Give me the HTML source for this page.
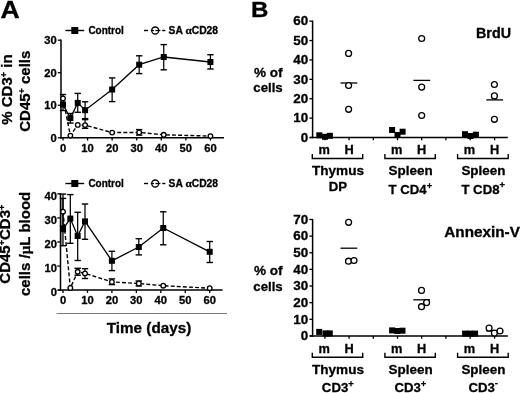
<!DOCTYPE html>
<html><head><meta charset="utf-8"><style>
html,body{margin:0;padding:0;background:#fff;width:520px;height:393px;overflow:hidden;}
svg{display:block;will-change:transform;}
text{font-family:"Liberation Sans",sans-serif;font-weight:bold;fill:#000;stroke:#000;stroke-width:0.3px;}
</style></head><body>
<svg width="520" height="393" viewBox="0 0 520 393">
<rect width="520" height="393" fill="#fff"/>
<rect x="61.2" y="199" width="1.3" height="46" fill="#a0a0a0"/>
<text x="0.50" y="18.30" font-size="23.5" textLength="19.2" lengthAdjust="spacingAndGlyphs">A</text>
<text x="250.90" y="17.20" font-size="22.5" textLength="17.4" lengthAdjust="spacingAndGlyphs">B</text>
<line x1="61.00" y1="39.60" x2="61.00" y2="138.50" stroke="#000" stroke-width="1.5"/>
<line x1="60.30" y1="137.80" x2="224.00" y2="137.80" stroke="#000" stroke-width="1.5"/>
<line x1="57.80" y1="137.80" x2="61.00" y2="137.80" stroke="#000" stroke-width="1.3"/>
<text x="56.70" y="141.70" font-size="11.2" text-anchor="end">0</text>
<line x1="57.80" y1="105.27" x2="61.00" y2="105.27" stroke="#000" stroke-width="1.3"/>
<text x="56.70" y="109.17" font-size="11.2" text-anchor="end">10</text>
<line x1="57.80" y1="72.73" x2="61.00" y2="72.73" stroke="#000" stroke-width="1.3"/>
<text x="56.70" y="76.63" font-size="11.2" text-anchor="end">20</text>
<line x1="57.80" y1="40.20" x2="61.00" y2="40.20" stroke="#000" stroke-width="1.3"/>
<text x="56.70" y="44.10" font-size="11.2" text-anchor="end">30</text>
<line x1="63.00" y1="137.80" x2="63.00" y2="140.60" stroke="#000" stroke-width="1.3"/>
<text x="63.00" y="151.60" font-size="11.2" text-anchor="middle">0</text>
<line x1="87.57" y1="137.80" x2="87.57" y2="140.60" stroke="#000" stroke-width="1.3"/>
<text x="87.57" y="151.60" font-size="11.2" text-anchor="middle">10</text>
<line x1="112.14" y1="137.80" x2="112.14" y2="140.60" stroke="#000" stroke-width="1.3"/>
<text x="112.14" y="151.60" font-size="11.2" text-anchor="middle">20</text>
<line x1="136.71" y1="137.80" x2="136.71" y2="140.60" stroke="#000" stroke-width="1.3"/>
<text x="136.71" y="151.60" font-size="11.2" text-anchor="middle">30</text>
<line x1="161.28" y1="137.80" x2="161.28" y2="140.60" stroke="#000" stroke-width="1.3"/>
<text x="161.28" y="151.60" font-size="11.2" text-anchor="middle">40</text>
<line x1="185.85" y1="137.80" x2="185.85" y2="140.60" stroke="#000" stroke-width="1.3"/>
<text x="185.85" y="151.60" font-size="11.2" text-anchor="middle">50</text>
<line x1="210.42" y1="137.80" x2="210.42" y2="140.60" stroke="#000" stroke-width="1.3"/>
<text x="210.42" y="151.60" font-size="11.2" text-anchor="middle">60</text>
<polyline points="63.00,98.40 70.37,135.60 77.74,124.90 85.11,125.10 112.14,132.60 139.17,132.40 163.74,134.80 210.42,136.10" fill="none" stroke="#000" stroke-width="1.4" stroke-dasharray="3.9,2.2"/>
<polyline points="63.00,104.50 70.37,118.10 77.74,102.90 85.11,110.20 112.14,89.50 139.17,64.70 163.74,57.00 210.42,62.00" fill="none" stroke="#000" stroke-width="1.3"/>
<line x1="85.11" y1="119.60" x2="85.11" y2="128.30" stroke="#000" stroke-width="1.25"/>
<line x1="81.91" y1="119.60" x2="88.31" y2="119.60" stroke="#000" stroke-width="1.4"/>
<line x1="81.91" y1="128.30" x2="88.31" y2="128.30" stroke="#000" stroke-width="1.4"/>
<line x1="139.17" y1="129.60" x2="139.17" y2="135.10" stroke="#000" stroke-width="1.25"/>
<line x1="135.97" y1="129.60" x2="142.37" y2="129.60" stroke="#000" stroke-width="1.4"/>
<line x1="135.97" y1="135.10" x2="142.37" y2="135.10" stroke="#000" stroke-width="1.4"/>
<line x1="63.00" y1="94.50" x2="63.00" y2="110.50" stroke="#000" stroke-width="1.25"/>
<line x1="59.80" y1="94.50" x2="66.20" y2="94.50" stroke="#000" stroke-width="1.4"/>
<line x1="59.80" y1="110.50" x2="66.20" y2="110.50" stroke="#000" stroke-width="1.4"/>
<line x1="70.37" y1="113.50" x2="70.37" y2="123.10" stroke="#000" stroke-width="1.25"/>
<line x1="67.17" y1="113.50" x2="73.57" y2="113.50" stroke="#000" stroke-width="1.4"/>
<line x1="67.17" y1="123.10" x2="73.57" y2="123.10" stroke="#000" stroke-width="1.4"/>
<line x1="77.74" y1="93.40" x2="77.74" y2="112.30" stroke="#000" stroke-width="1.25"/>
<line x1="74.54" y1="93.40" x2="80.94" y2="93.40" stroke="#000" stroke-width="1.4"/>
<line x1="74.54" y1="112.30" x2="80.94" y2="112.30" stroke="#000" stroke-width="1.4"/>
<line x1="85.11" y1="101.80" x2="85.11" y2="118.60" stroke="#000" stroke-width="1.25"/>
<line x1="81.91" y1="101.80" x2="88.31" y2="101.80" stroke="#000" stroke-width="1.4"/>
<line x1="81.91" y1="118.60" x2="88.31" y2="118.60" stroke="#000" stroke-width="1.4"/>
<line x1="112.14" y1="77.90" x2="112.14" y2="101.60" stroke="#000" stroke-width="1.25"/>
<line x1="108.94" y1="77.90" x2="115.34" y2="77.90" stroke="#000" stroke-width="1.4"/>
<line x1="108.94" y1="101.60" x2="115.34" y2="101.60" stroke="#000" stroke-width="1.4"/>
<line x1="139.17" y1="55.80" x2="139.17" y2="73.60" stroke="#000" stroke-width="1.25"/>
<line x1="135.97" y1="55.80" x2="142.37" y2="55.80" stroke="#000" stroke-width="1.4"/>
<line x1="135.97" y1="73.60" x2="142.37" y2="73.60" stroke="#000" stroke-width="1.4"/>
<line x1="163.74" y1="44.60" x2="163.74" y2="69.80" stroke="#000" stroke-width="1.25"/>
<line x1="160.54" y1="44.60" x2="166.94" y2="44.60" stroke="#000" stroke-width="1.4"/>
<line x1="160.54" y1="69.80" x2="166.94" y2="69.80" stroke="#000" stroke-width="1.4"/>
<line x1="210.42" y1="54.70" x2="210.42" y2="69.00" stroke="#000" stroke-width="1.25"/>
<line x1="207.22" y1="54.70" x2="213.62" y2="54.70" stroke="#000" stroke-width="1.4"/>
<line x1="207.22" y1="69.00" x2="213.62" y2="69.00" stroke="#000" stroke-width="1.4"/>
<circle cx="63.00" cy="98.40" r="2.3" fill="#fff" stroke="#000" stroke-width="1.3"/>
<circle cx="70.37" cy="135.60" r="2.3" fill="#fff" stroke="#000" stroke-width="1.3"/>
<circle cx="77.74" cy="124.90" r="2.3" fill="#fff" stroke="#000" stroke-width="1.3"/>
<circle cx="85.11" cy="125.10" r="2.3" fill="#fff" stroke="#000" stroke-width="1.3"/>
<circle cx="112.14" cy="132.60" r="2.3" fill="#fff" stroke="#000" stroke-width="1.3"/>
<circle cx="139.17" cy="132.40" r="2.3" fill="#fff" stroke="#000" stroke-width="1.3"/>
<circle cx="163.74" cy="134.80" r="2.3" fill="#fff" stroke="#000" stroke-width="1.3"/>
<circle cx="210.42" cy="136.10" r="2.3" fill="#fff" stroke="#000" stroke-width="1.3"/>
<rect x="60.00" y="101.50" width="6" height="6" fill="#000"/>
<rect x="67.37" y="115.10" width="6" height="6" fill="#000"/>
<rect x="74.74" y="99.90" width="6" height="6" fill="#000"/>
<rect x="82.11" y="107.20" width="6" height="6" fill="#000"/>
<rect x="109.14" y="86.50" width="6" height="6" fill="#000"/>
<rect x="136.17" y="61.70" width="6" height="6" fill="#000"/>
<rect x="160.74" y="54.00" width="6" height="6" fill="#000"/>
<rect x="207.42" y="59.00" width="6" height="6" fill="#000"/>
<line x1="65.40" y1="30.50" x2="84.20" y2="30.50" stroke="#000" stroke-width="1.4"/>
<rect x="71.3" y="27.0" width="7" height="7" fill="#000"/>
<text x="88.40" y="34.20" font-size="10.0" textLength="35.4" lengthAdjust="spacingAndGlyphs">Control</text>
<line x1="144.00" y1="30.50" x2="148.10" y2="30.50" stroke="#000" stroke-width="1.4"/>
<line x1="150.80" y1="30.50" x2="154.00" y2="30.50" stroke="#000" stroke-width="1.3"/>
<line x1="155.40" y1="30.50" x2="160.40" y2="30.50" stroke="#000" stroke-width="1.3"/>
<circle cx="155.2" cy="30.5" r="3.5" fill="none" stroke="#000" stroke-width="1.3"/>
<line x1="162.20" y1="30.50" x2="165.40" y2="30.50" stroke="#000" stroke-width="1.4"/>
<text x="168.60" y="34.20" font-size="10.0" textLength="49.5" lengthAdjust="spacingAndGlyphs">SA <tspan font-family="Liberation Serif, serif" font-size="11">α</tspan>CD28</text>
<line x1="60.50" y1="193.30" x2="60.50" y2="290.80" stroke="#000" stroke-width="1.5"/>
<line x1="58.20" y1="290.10" x2="222.60" y2="290.10" stroke="#000" stroke-width="1.5"/>
<line x1="57.30" y1="290.10" x2="60.50" y2="290.10" stroke="#000" stroke-width="1.3"/>
<text x="57.00" y="296.40" font-size="11.2" text-anchor="end">0</text>
<line x1="57.30" y1="266.05" x2="60.50" y2="266.05" stroke="#000" stroke-width="1.3"/>
<text x="57.00" y="272.35" font-size="11.2" text-anchor="end">10</text>
<line x1="57.30" y1="242.00" x2="60.50" y2="242.00" stroke="#000" stroke-width="1.3"/>
<text x="57.00" y="248.30" font-size="11.2" text-anchor="end">20</text>
<line x1="57.30" y1="217.95" x2="60.50" y2="217.95" stroke="#000" stroke-width="1.3"/>
<text x="57.00" y="224.25" font-size="11.2" text-anchor="end">30</text>
<line x1="57.30" y1="193.90" x2="60.50" y2="193.90" stroke="#000" stroke-width="1.3"/>
<text x="57.00" y="200.20" font-size="11.2" text-anchor="end">40</text>
<line x1="63.00" y1="290.10" x2="63.00" y2="292.90" stroke="#000" stroke-width="1.3"/>
<text x="63.00" y="303.60" font-size="11.2" text-anchor="middle">0</text>
<line x1="87.45" y1="290.10" x2="87.45" y2="292.90" stroke="#000" stroke-width="1.3"/>
<text x="87.45" y="303.60" font-size="11.2" text-anchor="middle">10</text>
<line x1="111.90" y1="290.10" x2="111.90" y2="292.90" stroke="#000" stroke-width="1.3"/>
<text x="111.90" y="303.60" font-size="11.2" text-anchor="middle">20</text>
<line x1="136.35" y1="290.10" x2="136.35" y2="292.90" stroke="#000" stroke-width="1.3"/>
<text x="136.35" y="303.60" font-size="11.2" text-anchor="middle">30</text>
<line x1="160.80" y1="290.10" x2="160.80" y2="292.90" stroke="#000" stroke-width="1.3"/>
<text x="160.80" y="303.60" font-size="11.2" text-anchor="middle">40</text>
<line x1="185.25" y1="290.10" x2="185.25" y2="292.90" stroke="#000" stroke-width="1.3"/>
<text x="185.25" y="303.60" font-size="11.2" text-anchor="middle">50</text>
<line x1="209.70" y1="290.10" x2="209.70" y2="292.90" stroke="#000" stroke-width="1.3"/>
<text x="209.70" y="303.60" font-size="11.2" text-anchor="middle">60</text>
<polyline points="63.00,211.70 70.33,288.00 77.67,271.80 85.00,273.40 111.90,281.90 138.80,283.50 163.25,285.70 209.70,288.20" fill="none" stroke="#000" stroke-width="1.4" stroke-dasharray="3.9,2.2"/>
<polyline points="63.00,229.20 70.33,218.60 77.67,236.00 85.00,221.40 111.90,260.80 138.80,247.00 163.25,228.00 209.70,251.80" fill="none" stroke="#000" stroke-width="1.3"/>
<line x1="63.00" y1="198.40" x2="63.00" y2="226.00" stroke="#000" stroke-width="1.25"/>
<line x1="59.80" y1="198.40" x2="66.20" y2="198.40" stroke="#000" stroke-width="1.4"/>
<line x1="59.80" y1="226.00" x2="66.20" y2="226.00" stroke="#000" stroke-width="1.4"/>
<line x1="77.67" y1="268.30" x2="77.67" y2="275.20" stroke="#000" stroke-width="1.25"/>
<line x1="74.47" y1="268.30" x2="80.87" y2="268.30" stroke="#000" stroke-width="1.4"/>
<line x1="74.47" y1="275.20" x2="80.87" y2="275.20" stroke="#000" stroke-width="1.4"/>
<line x1="85.00" y1="268.70" x2="85.00" y2="278.50" stroke="#000" stroke-width="1.25"/>
<line x1="81.80" y1="268.70" x2="88.20" y2="268.70" stroke="#000" stroke-width="1.4"/>
<line x1="81.80" y1="278.50" x2="88.20" y2="278.50" stroke="#000" stroke-width="1.4"/>
<line x1="111.90" y1="278.90" x2="111.90" y2="284.60" stroke="#000" stroke-width="1.25"/>
<line x1="108.70" y1="278.90" x2="115.10" y2="278.90" stroke="#000" stroke-width="1.4"/>
<line x1="108.70" y1="284.60" x2="115.10" y2="284.60" stroke="#000" stroke-width="1.4"/>
<line x1="138.80" y1="281.00" x2="138.80" y2="286.00" stroke="#000" stroke-width="1.25"/>
<line x1="135.60" y1="281.00" x2="142.00" y2="281.00" stroke="#000" stroke-width="1.4"/>
<line x1="135.60" y1="286.00" x2="142.00" y2="286.00" stroke="#000" stroke-width="1.4"/>
<line x1="63.00" y1="194.10" x2="63.00" y2="245.70" stroke="#000" stroke-width="1.25"/>
<line x1="59.80" y1="194.10" x2="66.20" y2="194.10" stroke="#000" stroke-width="1.4"/>
<line x1="59.80" y1="245.70" x2="66.20" y2="245.70" stroke="#000" stroke-width="1.4"/>
<line x1="70.33" y1="194.60" x2="70.33" y2="243.30" stroke="#000" stroke-width="1.25"/>
<line x1="67.13" y1="194.60" x2="73.53" y2="194.60" stroke="#000" stroke-width="1.4"/>
<line x1="67.13" y1="243.30" x2="73.53" y2="243.30" stroke="#000" stroke-width="1.4"/>
<line x1="77.67" y1="212.30" x2="77.67" y2="260.50" stroke="#000" stroke-width="1.25"/>
<line x1="74.47" y1="212.30" x2="80.87" y2="212.30" stroke="#000" stroke-width="1.4"/>
<line x1="74.47" y1="260.50" x2="80.87" y2="260.50" stroke="#000" stroke-width="1.4"/>
<line x1="85.00" y1="204.00" x2="85.00" y2="239.30" stroke="#000" stroke-width="1.25"/>
<line x1="81.80" y1="204.00" x2="88.20" y2="204.00" stroke="#000" stroke-width="1.4"/>
<line x1="81.80" y1="239.30" x2="88.20" y2="239.30" stroke="#000" stroke-width="1.4"/>
<line x1="111.90" y1="251.30" x2="111.90" y2="270.60" stroke="#000" stroke-width="1.25"/>
<line x1="108.70" y1="251.30" x2="115.10" y2="251.30" stroke="#000" stroke-width="1.4"/>
<line x1="108.70" y1="270.60" x2="115.10" y2="270.60" stroke="#000" stroke-width="1.4"/>
<line x1="138.80" y1="238.70" x2="138.80" y2="254.90" stroke="#000" stroke-width="1.25"/>
<line x1="135.60" y1="238.70" x2="142.00" y2="238.70" stroke="#000" stroke-width="1.4"/>
<line x1="135.60" y1="254.90" x2="142.00" y2="254.90" stroke="#000" stroke-width="1.4"/>
<line x1="163.25" y1="211.80" x2="163.25" y2="244.80" stroke="#000" stroke-width="1.25"/>
<line x1="160.05" y1="211.80" x2="166.44" y2="211.80" stroke="#000" stroke-width="1.4"/>
<line x1="160.05" y1="244.80" x2="166.44" y2="244.80" stroke="#000" stroke-width="1.4"/>
<line x1="209.70" y1="241.50" x2="209.70" y2="262.50" stroke="#000" stroke-width="1.25"/>
<line x1="206.50" y1="241.50" x2="212.90" y2="241.50" stroke="#000" stroke-width="1.4"/>
<line x1="206.50" y1="262.50" x2="212.90" y2="262.50" stroke="#000" stroke-width="1.4"/>
<circle cx="63.00" cy="211.70" r="2.3" fill="#fff" stroke="#000" stroke-width="1.3"/>
<circle cx="70.33" cy="288.00" r="2.3" fill="#fff" stroke="#000" stroke-width="1.3"/>
<circle cx="77.67" cy="271.80" r="2.3" fill="#fff" stroke="#000" stroke-width="1.3"/>
<circle cx="85.00" cy="273.40" r="2.3" fill="#fff" stroke="#000" stroke-width="1.3"/>
<circle cx="111.90" cy="281.90" r="2.3" fill="#fff" stroke="#000" stroke-width="1.3"/>
<circle cx="138.80" cy="283.50" r="2.3" fill="#fff" stroke="#000" stroke-width="1.3"/>
<circle cx="163.25" cy="285.70" r="2.3" fill="#fff" stroke="#000" stroke-width="1.3"/>
<circle cx="209.70" cy="288.20" r="2.3" fill="#fff" stroke="#000" stroke-width="1.3"/>
<rect x="60.00" y="226.20" width="6" height="6" fill="#000"/>
<rect x="67.33" y="215.60" width="6" height="6" fill="#000"/>
<rect x="74.67" y="233.00" width="6" height="6" fill="#000"/>
<rect x="82.00" y="218.40" width="6" height="6" fill="#000"/>
<rect x="108.90" y="257.80" width="6" height="6" fill="#000"/>
<rect x="135.80" y="244.00" width="6" height="6" fill="#000"/>
<rect x="160.25" y="225.00" width="6" height="6" fill="#000"/>
<rect x="206.70" y="248.80" width="6" height="6" fill="#000"/>
<line x1="65.40" y1="183.50" x2="84.20" y2="183.50" stroke="#000" stroke-width="1.4"/>
<rect x="71.3" y="180.0" width="7" height="7" fill="#000"/>
<text x="88.40" y="187.20" font-size="10.0" textLength="35.4" lengthAdjust="spacingAndGlyphs">Control</text>
<line x1="144.00" y1="183.50" x2="148.10" y2="183.50" stroke="#000" stroke-width="1.4"/>
<line x1="150.80" y1="183.50" x2="154.00" y2="183.50" stroke="#000" stroke-width="1.3"/>
<line x1="155.40" y1="183.50" x2="160.40" y2="183.50" stroke="#000" stroke-width="1.3"/>
<circle cx="155.2" cy="183.5" r="3.5" fill="none" stroke="#000" stroke-width="1.3"/>
<line x1="162.20" y1="183.50" x2="165.40" y2="183.50" stroke="#000" stroke-width="1.4"/>
<text x="168.60" y="187.20" font-size="10.0" textLength="49.5" lengthAdjust="spacingAndGlyphs">SA <tspan font-family="Liberation Serif, serif" font-size="11">α</tspan>CD28</text>
<line x1="56.50" y1="313.50" x2="227.00" y2="313.50" stroke="#7a7a7a" stroke-width="1.1"/>
<text x="149.00" y="333.00" font-size="15" text-anchor="middle" textLength="84.5" lengthAdjust="spacingAndGlyphs">Time (days)</text>
<text transform="translate(12,89.6) rotate(-90)" font-size="15" text-anchor="middle">% CD3<tspan dy="-5.5" font-size="9">+</tspan><tspan dy="5.5"> in</tspan></text>
<text transform="translate(30,91.2) rotate(-90)" font-size="15" text-anchor="middle">CD45<tspan dy="-5.5" font-size="9">+</tspan><tspan dy="5.5"> cells</tspan></text>
<text transform="translate(10.4,244.2) rotate(-90)" font-size="15" text-anchor="middle">CD45<tspan dy="-5.5" font-size="9">+</tspan><tspan dy="5.5">CD3</tspan><tspan dy="-5.5" font-size="9">+</tspan></text>
<text transform="translate(30,243.9) rotate(-90)" font-size="15" text-anchor="middle">cells /<tspan font-family="Liberation Serif, serif">µ</tspan>L blood</text>
<line x1="312.60" y1="20.56" x2="312.60" y2="138.20" stroke="#000" stroke-width="1.5"/>
<line x1="309.80" y1="137.50" x2="507.80" y2="137.50" stroke="#000" stroke-width="1.5"/>
<line x1="309.40" y1="137.50" x2="312.60" y2="137.50" stroke="#000" stroke-width="1.3"/>
<text x="308.20" y="141.80" font-size="12.8" text-anchor="end" textLength="7.45" lengthAdjust="spacingAndGlyphs">0</text>
<line x1="309.40" y1="118.11" x2="312.60" y2="118.11" stroke="#000" stroke-width="1.3"/>
<text x="308.20" y="122.41" font-size="12.8" text-anchor="end" textLength="14.9" lengthAdjust="spacingAndGlyphs">10</text>
<line x1="309.40" y1="98.72" x2="312.60" y2="98.72" stroke="#000" stroke-width="1.3"/>
<text x="308.20" y="103.02" font-size="12.8" text-anchor="end" textLength="14.9" lengthAdjust="spacingAndGlyphs">20</text>
<line x1="309.40" y1="79.33" x2="312.60" y2="79.33" stroke="#000" stroke-width="1.3"/>
<text x="308.20" y="83.63" font-size="12.8" text-anchor="end" textLength="14.9" lengthAdjust="spacingAndGlyphs">30</text>
<line x1="309.40" y1="59.94" x2="312.60" y2="59.94" stroke="#000" stroke-width="1.3"/>
<text x="308.20" y="64.24" font-size="12.8" text-anchor="end" textLength="14.9" lengthAdjust="spacingAndGlyphs">40</text>
<line x1="309.40" y1="40.55" x2="312.60" y2="40.55" stroke="#000" stroke-width="1.3"/>
<text x="308.20" y="44.85" font-size="12.8" text-anchor="end" textLength="14.9" lengthAdjust="spacingAndGlyphs">50</text>
<line x1="309.40" y1="21.16" x2="312.60" y2="21.16" stroke="#000" stroke-width="1.3"/>
<text x="308.20" y="25.46" font-size="12.8" text-anchor="end" textLength="14.9" lengthAdjust="spacingAndGlyphs">60</text>
<line x1="324.90" y1="137.50" x2="324.90" y2="140.30" stroke="#000" stroke-width="1.3"/>
<line x1="349.10" y1="137.50" x2="349.10" y2="140.30" stroke="#000" stroke-width="1.3"/>
<line x1="373.30" y1="137.50" x2="373.30" y2="140.30" stroke="#000" stroke-width="1.3"/>
<line x1="397.50" y1="137.50" x2="397.50" y2="140.30" stroke="#000" stroke-width="1.3"/>
<line x1="421.70" y1="137.50" x2="421.70" y2="140.30" stroke="#000" stroke-width="1.3"/>
<line x1="445.90" y1="137.50" x2="445.90" y2="140.30" stroke="#000" stroke-width="1.3"/>
<line x1="470.20" y1="137.50" x2="470.20" y2="140.30" stroke="#000" stroke-width="1.3"/>
<line x1="494.60" y1="137.50" x2="494.60" y2="140.30" stroke="#000" stroke-width="1.3"/>
<text x="324.10" y="153.90" font-size="12.8" text-anchor="middle">m</text>
<text x="349.10" y="153.90" font-size="12.8" text-anchor="middle">H</text>
<polyline points="312.29999999999995,154 312.29999999999995,158.5 362.70000000000005,158.5 362.70000000000005,154" fill="none" stroke="#000" stroke-width="1.4"/>
<text x="338.00" y="174.90" font-size="13.2" text-anchor="middle" textLength="52.0" lengthAdjust="spacingAndGlyphs">Thymus</text>
<text x="337.80" y="191.20" font-size="13.2" text-anchor="middle">DP</text>
<text x="396.70" y="153.90" font-size="12.8" text-anchor="middle">m</text>
<text x="421.70" y="153.90" font-size="12.8" text-anchor="middle">H</text>
<polyline points="384.9,154 384.9,158.5 435.3,158.5 435.3,154" fill="none" stroke="#000" stroke-width="1.4"/>
<text x="410.60" y="174.90" font-size="13.2" text-anchor="middle" textLength="44.0" lengthAdjust="spacingAndGlyphs">Spleen</text>
<text x="410.40" y="193.70" font-size="13.2" text-anchor="middle">T CD4<tspan dy="-5.2" font-size="9.4">+</tspan></text>
<text x="469.40" y="153.90" font-size="12.8" text-anchor="middle">m</text>
<text x="494.60" y="153.90" font-size="12.8" text-anchor="middle">H</text>
<polyline points="457.59999999999997,154 457.59999999999997,158.5 508.20000000000005,158.5 508.20000000000005,154" fill="none" stroke="#000" stroke-width="1.4"/>
<text x="483.40" y="174.90" font-size="13.2" text-anchor="middle" textLength="44.0" lengthAdjust="spacingAndGlyphs">Spleen</text>
<text x="483.20" y="193.60" font-size="13.2" text-anchor="middle">T CD8<tspan dy="-5.2" font-size="9.4">+</tspan></text>
<rect x="316.30" y="132.30" width="6" height="6" fill="#000"/>
<rect x="322.00" y="133.80" width="6" height="6" fill="#000"/>
<rect x="326.90" y="132.80" width="6" height="6" fill="#000"/>
<line x1="340.50" y1="83.00" x2="357.30" y2="83.00" stroke="#000" stroke-width="1.3"/>
<circle cx="348.6" cy="53.4" r="2.95" fill="#fff" stroke="#000" stroke-width="1.3"/>
<circle cx="348.6" cy="85.5" r="2.95" fill="#fff" stroke="#000" stroke-width="1.3"/>
<circle cx="348.6" cy="109.3" r="2.95" fill="#fff" stroke="#000" stroke-width="1.3"/>
<rect x="389.10" y="127.00" width="6" height="6" fill="#000"/>
<rect x="394.50" y="132.00" width="6" height="6" fill="#000"/>
<rect x="399.60" y="128.70" width="6" height="6" fill="#000"/>
<line x1="413.40" y1="80.40" x2="430.20" y2="80.40" stroke="#000" stroke-width="1.3"/>
<circle cx="421.7" cy="38.5" r="2.95" fill="#fff" stroke="#000" stroke-width="1.3"/>
<circle cx="421.7" cy="87.1" r="2.95" fill="#fff" stroke="#000" stroke-width="1.3"/>
<circle cx="421.7" cy="115.5" r="2.95" fill="#fff" stroke="#000" stroke-width="1.3"/>
<rect x="462.00" y="131.20" width="6" height="6" fill="#000"/>
<rect x="467.50" y="133.00" width="6" height="6" fill="#000"/>
<rect x="472.90" y="131.70" width="6" height="6" fill="#000"/>
<line x1="486.30" y1="99.90" x2="503.10" y2="99.90" stroke="#000" stroke-width="1.3"/>
<circle cx="494.4" cy="84.5" r="2.95" fill="#fff" stroke="#000" stroke-width="1.3"/>
<circle cx="494.4" cy="95.9" r="2.95" fill="#fff" stroke="#000" stroke-width="1.3"/>
<circle cx="494.4" cy="119.3" r="2.95" fill="#fff" stroke="#000" stroke-width="1.3"/>
<text x="476.00" y="38.00" font-size="14.2" textLength="35.0" lengthAdjust="spacingAndGlyphs">BrdU</text>
<text x="268.20" y="76.50" font-size="13.2" text-anchor="middle" textLength="28.6" lengthAdjust="spacingAndGlyphs">% of</text>
<text x="268.00" y="92.40" font-size="13.2" text-anchor="middle" textLength="29.4" lengthAdjust="spacingAndGlyphs">cells</text>
<line x1="312.60" y1="218.89" x2="312.60" y2="336.63" stroke="#000" stroke-width="1.5"/>
<line x1="309.80" y1="335.93" x2="507.80" y2="335.93" stroke="#000" stroke-width="1.5"/>
<line x1="309.40" y1="335.93" x2="312.60" y2="335.93" stroke="#000" stroke-width="1.3"/>
<text x="308.20" y="340.23" font-size="12.8" text-anchor="end" textLength="7.45" lengthAdjust="spacingAndGlyphs">0</text>
<line x1="309.40" y1="319.30" x2="312.60" y2="319.30" stroke="#000" stroke-width="1.3"/>
<text x="308.20" y="323.60" font-size="12.8" text-anchor="end" textLength="14.9" lengthAdjust="spacingAndGlyphs">10</text>
<line x1="309.40" y1="302.66" x2="312.60" y2="302.66" stroke="#000" stroke-width="1.3"/>
<text x="308.20" y="306.96" font-size="12.8" text-anchor="end" textLength="14.9" lengthAdjust="spacingAndGlyphs">20</text>
<line x1="309.40" y1="286.02" x2="312.60" y2="286.02" stroke="#000" stroke-width="1.3"/>
<text x="308.20" y="290.32" font-size="12.8" text-anchor="end" textLength="14.9" lengthAdjust="spacingAndGlyphs">30</text>
<line x1="309.40" y1="269.39" x2="312.60" y2="269.39" stroke="#000" stroke-width="1.3"/>
<text x="308.20" y="273.69" font-size="12.8" text-anchor="end" textLength="14.9" lengthAdjust="spacingAndGlyphs">40</text>
<line x1="309.40" y1="252.75" x2="312.60" y2="252.75" stroke="#000" stroke-width="1.3"/>
<text x="308.20" y="257.06" font-size="12.8" text-anchor="end" textLength="14.9" lengthAdjust="spacingAndGlyphs">50</text>
<line x1="309.40" y1="236.12" x2="312.60" y2="236.12" stroke="#000" stroke-width="1.3"/>
<text x="308.20" y="240.42" font-size="12.8" text-anchor="end" textLength="14.9" lengthAdjust="spacingAndGlyphs">60</text>
<line x1="309.40" y1="219.49" x2="312.60" y2="219.49" stroke="#000" stroke-width="1.3"/>
<text x="308.20" y="223.79" font-size="12.8" text-anchor="end" textLength="14.9" lengthAdjust="spacingAndGlyphs">70</text>
<line x1="324.90" y1="335.93" x2="324.90" y2="338.73" stroke="#000" stroke-width="1.3"/>
<line x1="349.10" y1="335.93" x2="349.10" y2="338.73" stroke="#000" stroke-width="1.3"/>
<line x1="373.30" y1="335.93" x2="373.30" y2="338.73" stroke="#000" stroke-width="1.3"/>
<line x1="397.50" y1="335.93" x2="397.50" y2="338.73" stroke="#000" stroke-width="1.3"/>
<line x1="421.70" y1="335.93" x2="421.70" y2="338.73" stroke="#000" stroke-width="1.3"/>
<line x1="445.90" y1="335.93" x2="445.90" y2="338.73" stroke="#000" stroke-width="1.3"/>
<line x1="470.20" y1="335.93" x2="470.20" y2="338.73" stroke="#000" stroke-width="1.3"/>
<line x1="494.60" y1="335.93" x2="494.60" y2="338.73" stroke="#000" stroke-width="1.3"/>
<text x="324.10" y="352.70" font-size="12.8" text-anchor="middle">m</text>
<text x="349.10" y="352.70" font-size="12.8" text-anchor="middle">H</text>
<polyline points="312.29999999999995,352.8 312.29999999999995,357.3 362.70000000000005,357.3 362.70000000000005,352.8" fill="none" stroke="#000" stroke-width="1.4"/>
<text x="338.00" y="373.70" font-size="13.2" text-anchor="middle" textLength="52.0" lengthAdjust="spacingAndGlyphs">Thymus</text>
<text x="337.80" y="391.80" font-size="13.2" text-anchor="middle">CD3<tspan dy="-5.2" font-size="9.4">+</tspan></text>
<text x="396.70" y="352.70" font-size="12.8" text-anchor="middle">m</text>
<text x="421.70" y="352.70" font-size="12.8" text-anchor="middle">H</text>
<polyline points="384.9,352.8 384.9,357.3 435.3,357.3 435.3,352.8" fill="none" stroke="#000" stroke-width="1.4"/>
<text x="410.60" y="373.70" font-size="13.2" text-anchor="middle" textLength="44.0" lengthAdjust="spacingAndGlyphs">Spleen</text>
<text x="410.40" y="391.80" font-size="13.2" text-anchor="middle">CD3<tspan dy="-5.2" font-size="9.4">+</tspan></text>
<text x="469.40" y="352.70" font-size="12.8" text-anchor="middle">m</text>
<text x="494.60" y="352.70" font-size="12.8" text-anchor="middle">H</text>
<polyline points="457.59999999999997,352.8 457.59999999999997,357.3 508.20000000000005,357.3 508.20000000000005,352.8" fill="none" stroke="#000" stroke-width="1.4"/>
<text x="483.40" y="373.70" font-size="13.2" text-anchor="middle" textLength="44.0" lengthAdjust="spacingAndGlyphs">Spleen</text>
<text x="483.20" y="391.60" font-size="13.2" text-anchor="middle">CD3<tspan dy="-5.4" font-size="9.6">-</tspan></text>
<rect x="316.20" y="328.90" width="6" height="6" fill="#000"/>
<rect x="322.50" y="330.40" width="6" height="6" fill="#000"/>
<rect x="326.80" y="330.40" width="6" height="6" fill="#000"/>
<line x1="340.50" y1="248.20" x2="357.30" y2="248.20" stroke="#000" stroke-width="1.3"/>
<circle cx="348.6" cy="222.3" r="2.95" fill="#fff" stroke="#000" stroke-width="1.3"/>
<circle cx="348.5" cy="261.2" r="2.95" fill="#fff" stroke="#000" stroke-width="1.3"/>
<circle cx="354.0" cy="260.5" r="2.95" fill="#fff" stroke="#000" stroke-width="1.3"/>
<rect x="389.10" y="327.40" width="6" height="6" fill="#000"/>
<rect x="394.30" y="328.00" width="6" height="6" fill="#000"/>
<rect x="399.50" y="327.70" width="6" height="6" fill="#000"/>
<line x1="413.30" y1="299.80" x2="430.00" y2="299.80" stroke="#000" stroke-width="1.3"/>
<circle cx="421.5" cy="290.4" r="2.95" fill="#fff" stroke="#000" stroke-width="1.3"/>
<circle cx="426.6" cy="302.6" r="2.95" fill="#fff" stroke="#000" stroke-width="1.3"/>
<circle cx="421.5" cy="306.7" r="2.95" fill="#fff" stroke="#000" stroke-width="1.3"/>
<rect x="462.10" y="330.60" width="6" height="6" fill="#000"/>
<rect x="467.10" y="330.60" width="6" height="6" fill="#000"/>
<rect x="472.10" y="330.60" width="6" height="6" fill="#000"/>
<line x1="486.30" y1="330.90" x2="503.10" y2="330.90" stroke="#000" stroke-width="1.3"/>
<circle cx="489.1" cy="328.1" r="2.95" fill="#fff" stroke="#000" stroke-width="1.3"/>
<circle cx="494.4" cy="333.1" r="2.95" fill="#fff" stroke="#000" stroke-width="1.3"/>
<circle cx="500.0" cy="331.0" r="2.95" fill="#fff" stroke="#000" stroke-width="1.3"/>
<text x="444.30" y="237.00" font-size="14.2" textLength="75.6" lengthAdjust="spacingAndGlyphs">Annexin-V</text>
<text x="268.20" y="275.30" font-size="13.2" text-anchor="middle" textLength="28.6" lengthAdjust="spacingAndGlyphs">% of</text>
<text x="268.00" y="291.20" font-size="13.2" text-anchor="middle" textLength="29.4" lengthAdjust="spacingAndGlyphs">cells</text>
</svg>
</body></html>
